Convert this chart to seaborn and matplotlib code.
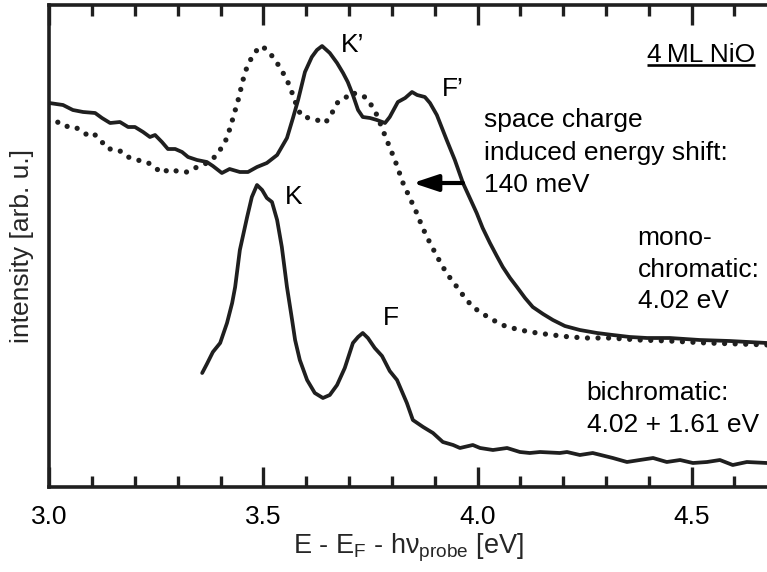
import matplotlib
matplotlib.use("Agg")
import matplotlib.pyplot as plt
from matplotlib.ticker import MultipleLocator, FixedLocator
from matplotlib.patches import ArrowStyle
import numpy as np
import pandas as pd
import seaborn as sns

# Monochromatic spectrum (4.02 eV)
mono_energy = [3.000, 3.032, 3.055, 3.079, 3.107, 3.123, 3.142, 3.165, 3.184, 3.200,
               3.219, 3.235, 3.247, 3.263, 3.277, 3.294, 3.310, 3.324, 3.345, 3.368,
               3.382, 3.403, 3.421, 3.445, 3.464, 3.485, 3.508, 3.532, 3.555, 3.569,
               3.581, 3.597, 3.613, 3.625, 3.637, 3.655, 3.672, 3.686, 3.697, 3.709,
               3.721, 3.732, 3.749, 3.765, 3.784, 3.795, 3.814, 3.831, 3.847, 3.859,
               3.877, 3.889, 3.905, 3.928, 3.947, 3.966, 3.982, 3.998, 4.012, 4.029,
               4.045, 4.059, 4.076, 4.092, 4.111, 4.129, 4.153, 4.176, 4.204, 4.239,
               4.279, 4.316, 4.356, 4.396, 4.449, 4.519, 4.589, 4.676, 4.753, 4.823]
mono_intensity = [3.84, 3.82, 3.77, 3.75, 3.74, 3.69, 3.64, 3.65, 3.60, 3.60,
                  3.55, 3.50, 3.52, 3.45, 3.38, 3.38, 3.35, 3.30, 3.27, 3.25,
                  3.21, 3.14, 3.18, 3.15, 3.15, 3.20, 3.24, 3.32, 3.49, 3.69,
                  3.87, 4.15, 4.30, 4.37, 4.41, 4.34, 4.24, 4.14, 4.05, 3.92,
                  3.77, 3.70, 3.69, 3.67, 3.64, 3.70, 3.85, 3.89, 3.95, 3.92,
                  3.90, 3.84, 3.72, 3.47, 3.27, 3.04, 2.89, 2.74, 2.59, 2.44,
                  2.31, 2.20, 2.09, 2.00, 1.89, 1.80, 1.73, 1.67, 1.61, 1.57,
                  1.54, 1.52, 1.50, 1.49, 1.49, 1.47, 1.46, 1.44, 1.43, 1.42]

# Space charge induced energy shift (eV); the dotted trace is the
# monochromatic spectrum moved by this amount
shift_ev = 0.140

# Bichromatic spectrum (4.02 + 1.61 eV)
bi_energy = [3.357, 3.368, 3.382, 3.399, 3.415, 3.427, 3.434, 3.445, 3.462, 3.473,
             3.485, 3.497, 3.508, 3.520, 3.532, 3.543, 3.555, 3.567, 3.574, 3.585,
             3.602, 3.620, 3.639, 3.655, 3.672, 3.690, 3.709, 3.721, 3.732, 3.744,
             3.760, 3.777, 3.795, 3.812, 3.835, 3.849, 3.873, 3.896, 3.919, 3.943,
             3.959, 3.989, 4.006, 4.036, 4.069, 4.099, 4.122, 4.146, 4.192, 4.209,
             4.239, 4.269, 4.316, 4.349, 4.379, 4.410, 4.442, 4.473, 4.503, 4.536,
             4.566, 4.596, 4.629, 4.676, 4.700]
bi_intensity = [1.14, 1.23, 1.35, 1.44, 1.64, 1.84, 2.00, 2.37, 2.70, 2.90,
                3.02, 2.97, 2.89, 2.85, 2.67, 2.40, 2.00, 1.67, 1.47, 1.27,
                1.07, 0.94, 0.89, 0.92, 1.02, 1.19, 1.44, 1.50, 1.54, 1.49,
                1.39, 1.31, 1.16, 1.07, 0.84, 0.67, 0.60, 0.54, 0.45, 0.42,
                0.39, 0.42, 0.39, 0.37, 0.39, 0.35, 0.34, 0.35, 0.34, 0.35,
                0.32, 0.34, 0.29, 0.25, 0.27, 0.29, 0.25, 0.27, 0.24, 0.25,
                0.27, 0.22, 0.25, 0.24, 0.24]

major_ticks = [3.0, 3.5, 4.0, 4.5]
tick_labels = ["3.0", "3.5", "4.0", "4.5"]

sns.set_style("ticks")
plt.rcParams["font.family"] = ["Liberation Sans", "DejaVu Sans"]
plt.rcParams["mathtext.fontset"] = "custom"
plt.rcParams["mathtext.rm"] = "Liberation Sans"
plt.rcParams["mathtext.it"] = "Liberation Sans:italic"

ink = "#1f1f1f"
FS = 19

fig = plt.figure(figsize=(7.67, 5.72), dpi=100)
ax = fig.add_axes([49.3 / 767, 85 / 572, 1 - 49.3 / 767, 482 / 572])

mono = pd.DataFrame({"E": mono_energy, "I": mono_intensity})
shifted = pd.DataFrame({"E": np.array(mono_energy) - shift_ev, "I": mono_intensity})
bi = pd.DataFrame({"E": bi_energy, "I": bi_intensity})

sns.lineplot(data=mono, x="E", y="I", ax=ax, color=ink, lw=2.7,
             estimator=None, sort=False, solid_joinstyle="round")
sns.lineplot(data=shifted, x="E", y="I", ax=ax, color=ink, lw=3.8,
             estimator=None, sort=False,
             linestyle=(0, (0.001, 2.0)), dash_capstyle="round")
sns.lineplot(data=bi, x="E", y="I", ax=ax, color=ink, lw=2.7,
             estimator=None, sort=False, solid_joinstyle="round")

ax.set_xlim(3.0, 4.676)
ax.set_ylim(0, 4.82)

ax.xaxis.set_major_locator(FixedLocator(major_ticks))
ax.set_xticklabels(tick_labels)
ax.xaxis.set_minor_locator(MultipleLocator(0.1))
ax.set_yticks([])
ax.tick_params(axis="x", which="both", direction="in", top=True, bottom=True,
               color=ink, width=2.4, labelsize=FS, pad=13, labelcolor="black")
ax.tick_params(axis="x", which="major", length=14.5)
ax.tick_params(axis="x", which="minor", length=8)
for side in ("left", "bottom", "top"):
    ax.spines[side].set_linewidth(2.6)
    ax.spines[side].set_color(ink)
ax.spines["right"].set_visible(False)

ax.set_xlabel(r"E - E$_\mathregular{F}$ - h" + "\u03bd" + r"$_\mathregular{probe}$ [eV]",
              fontsize=19.5, labelpad=2)
ax.set_ylabel("intensity [arb. u.]", fontsize=FS, labelpad=11)

# peak labels
txt = dict(fontsize=FS, color="black", va="baseline", ha="left")
ax.text(3.681, 4.35, "K\u2019", **txt)
ax.text(3.917, 3.91, "F\u2019", **txt)
ax.text(3.550, 2.83, "K", **txt)
ax.text(3.779, 1.62, "F", **txt)

# shift annotation
for i, line in enumerate(["space charge", "induced energy shift:", "140 meV"]):
    ax.text(4.014, 3.597 - i * 0.325, line, **txt)
ax.annotate("", xy=(3.849, 3.04), xytext=(3.966, 3.04),
            arrowprops=dict(arrowstyle=ArrowStyle("-|>", head_length=0.75, head_width=0.25),
                            mutation_scale=20, lw=3, color="black",
                            shrinkA=0, shrinkB=0))

for i, line in enumerate(["mono-", "chromatic:", "4.02 eV"]):
    ax.text(4.374, 2.42 - i * 0.317, line, **txt)
for i, line in enumerate(["bichromatic:", "4.02 + 1.61 eV"]):
    ax.text(4.255, 0.87 - i * 0.317, line, **txt)

sample = ax.text(4.648, 4.25, "4\u2009ML NiO", fontsize=FS, color="black",
                 va="baseline", ha="right")
fig.canvas.draw()
bb = sample.get_window_extent().transformed(ax.transData.inverted())
ax.plot([bb.x0, bb.x1], [4.25 - 0.03, 4.25 - 0.03], color="black", lw=1.9,
        solid_capstyle="butt")

fig.savefig("out.png", dpi=100)
